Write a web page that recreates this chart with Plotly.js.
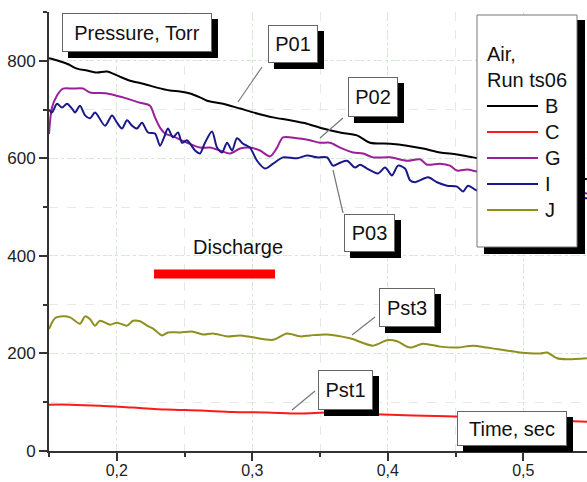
<!DOCTYPE html>
<html><head><meta charset="utf-8">
<script src="https://cdn.plot.ly/plotly-3.0.1.min.js"></script>
<style>html,body{margin:0;padding:0;background:#fff}#chart{width:587px;height:482px}</style>
</head><body><div id="chart"></div>
<script>
// ---- data ----
const seriesNames = ['B', 'C', 'G', 'I', 'J'];
const seriesColors = ['#000000', '#ff1a1a', '#9b1f9b', '#18188a', '#8f8f1e'];

const xB = [0.150,0.153,0.1633,0.1707,0.178,0.1854,0.1928,0.2002,0.2098,0.2194,0.2297,0.2393,0.2467,0.2541,0.2614,0.2666,0.2784,0.291,0.3035,0.3153,0.3279,0.3404,0.3522,0.3648,0.3773,0.3869,0.4017,0.4142,0.426,0.4386,0.4511,0.4629,0.49,0.52,0.547];
const yB = [805,803,794,784,780,776,778,770,759,753,745,739,737,733,725,718,712,702,692,684,678,671,661,653,647,632,630,626,620,612,608,602,588,572,557];

const xC = [0.150,0.1655,0.1876,0.212,0.237,0.2614,0.2856,0.3109,0.3352,0.3574,0.3699,0.4186,0.4681,0.5175,0.547];
const yC = [95,95,93,89,85,83,80,79,77,79,77,73,69,63,60];

const xG = [0.150,0.1522,0.1559,0.1603,0.1677,0.1751,0.1803,0.1928,0.2046,0.2172,0.2245,0.2282,0.2319,0.2356,0.2415,0.2518,0.2614,0.2688,0.2762,0.2836,0.291,0.2983,0.3057,0.3131,0.3183,0.3227,0.333,0.3426,0.35,0.3574,0.3648,0.3744,0.3817,0.3891,0.4017,0.4142,0.4238,0.429,0.4386,0.4459,0.4511,0.4585,0.4659,0.50,0.525,0.547];
const yG = [650,704,729,743,743,743,735,733,725,714,708,684,663,651,645,632,622,622,616,610,620,622,616,604,622,643,641,637,632,632,622,612,610,602,602,595,598,587,589,585,575,577,573,555,540,528];

const xI = [0.150,0.1522,0.1559,0.1596,0.1633,0.167,0.1692,0.1729,0.1766,0.1803,0.184,0.1913,0.1965,0.2002,0.2039,0.2076,0.2113,0.2149,0.2186,0.2231,0.2282,0.2319,0.2349,0.2378,0.2415,0.2452,0.2482,0.2518,0.2578,0.2614,0.2651,0.2703,0.274,0.2777,0.2814,0.2851,0.2887,0.2932,0.2983,0.3035,0.3094,0.3153,0.3227,0.333,0.3404,0.3478,0.3552,0.3596,0.3648,0.3699,0.3758,0.3795,0.3847,0.3928,0.398,0.4031,0.4076,0.4127,0.4164,0.4201,0.4297,0.4363,0.4437,0.4511,0.4555,0.4592,0.4659,0.50,0.525,0.547];
const yI = [700,694,712,704,712,702,694,708,688,682,694,667,688,673,661,678,667,661,673,653,651,626,643,661,643,653,632,637,616,610,632,655,622,612,632,616,641,630,622,595,579,589,602,600,606,602,602,585,591,595,581,587,579,569,581,565,585,579,555,551,561,551,544,542,532,544,534,526,520,518];

const xJ = [0.150,0.1544,0.1603,0.1655,0.1729,0.1766,0.1803,0.184,0.1876,0.195,0.2002,0.2076,0.212,0.2172,0.2223,0.2268,0.2334,0.2378,0.2467,0.2555,0.2637,0.271,0.2814,0.291,0.3006,0.3153,0.3256,0.3352,0.3426,0.3552,0.3721,0.3891,0.3994,0.4068,0.4164,0.426,0.4386,0.4511,0.4629,0.4732,0.4828,0.4976,0.5124,0.5175,0.5249,0.5323,0.547];
const yJ = [250,272,276,274,261,276,270,257,267,259,263,257,267,266,257,251,237,243,243,245,239,241,235,237,233,228,241,235,237,239,231,216,227,225,212,220,214,212,216,212,208,202,200,202,190,188,190];

const seriesX = [xB, xC, xG, xI, xJ];
const seriesY = [yB, yC, yG, yI, yJ];

const dischargeX = [0.2275, 0.3168];
const dischargeY = [363, 363];

const xTickVals = [0.2, 0.3, 0.4, 0.5];
const xTickLabels = ['0,2', '0,3', '0,4', '0,5'];
const yTickVals = [0, 200, 400, 600, 800];
const yTickLabels = ['0', '200', '400', '600', '800'];

const legendTitle = 'Air,<br>Run ts06';
const curveLabels = ['P01', 'P02', 'P03', 'Pst3', 'Pst1'];

// ---- layout helpers (pixel -> paper) ----
const W = 587, H = 482, ML = 49, MR = 0, MT = 12, MB = 31;
const PW = W - ML - MR, PH = H - MT - MB;
const px = v => (v - ML) / PW;
const py = v => (H - MB - v) / PH;
const FONT = 'Arial, "Liberation Sans", sans-serif';

const shapes = [];
const annotations = [];

function box(text, l, t, r, b, off) {
  off = off || 6;
  shapes.push({type: 'rect', xref: 'paper', yref: 'paper', layer: 'above',
    x0: px(l + off), x1: px(r + off), y0: py(b + off), y1: py(t + off),
    fillcolor: '#000', line: {width: 0}});
  annotations.push({text: text, xref: 'paper', yref: 'paper', x: px((l + r) / 2), y: py((t + b) / 2),
    xanchor: 'center', yanchor: 'middle', showarrow: false, width: r - l - 2, height: b - t - 2,
    bgcolor: '#fff', bordercolor: '#666', borderwidth: 1, borderpad: 0,
    font: {family: FONT, size: 20, color: '#111'}});
}
function leader(x0, y0, x1, y1) {
  shapes.push({type: 'line', xref: 'paper', yref: 'paper', layer: 'above',
    x0: px(x0), y0: py(y0), x1: px(x1), y1: py(y1), line: {color: '#777', width: 1.2}});
}

leader(262, 67, 238, 102);
leader(343, 118, 320, 138);
leader(343, 213, 333, 170);
leader(375, 317, 352, 335);
leader(315, 391, 292, 410);

box('Pressure, Torr', 62, 13, 212, 52);
box(curveLabels[0], 268, 25, 318, 63);
box(curveLabels[1], 348, 77, 398, 117);
box(curveLabels[2], 344, 214, 395, 252);
box(curveLabels[3], 379, 288, 435, 327);
box(curveLabels[4], 318, 370, 373, 410);
box('Time, sec', 457, 411, 567, 446);

annotations.push({text: 'Discharge', xref: 'paper', yref: 'paper', x: px(238), y: py(247),
  xanchor: 'center', yanchor: 'middle', showarrow: false,
  font: {family: FONT, size: 20, color: '#111'}});

// legend (drawn box)
shapes.push({type: 'rect', xref: 'paper', yref: 'paper', layer: 'above',
  x0: px(484), x1: px(585), y0: py(254), y1: py(20), fillcolor: '#000', line: {width: 0}});
shapes.push({type: 'rect', xref: 'paper', yref: 'paper', layer: 'above',
  x0: px(477), x1: px(577), y0: py(247), y1: py(15), fillcolor: '#fff', line: {color: '#777', width: 1}});
annotations.push({text: legendTitle, xref: 'paper', yref: 'paper', x: px(485), y: py(67),
  xanchor: 'left', yanchor: 'middle', align: 'left', showarrow: false,
  font: {family: FONT, size: 20, color: '#111'}});
const legendRows = [106, 132, 158, 184, 210];
seriesNames.forEach((n, i) => {
  shapes.push({type: 'line', xref: 'paper', yref: 'paper', layer: 'above',
    x0: px(487), x1: px(538), y0: py(legendRows[i]), y1: py(legendRows[i]),
    line: {color: seriesColors[i], width: 2}});
  annotations.push({text: n, xref: 'paper', yref: 'paper', x: px(543), y: py(legendRows[i]),
    xanchor: 'left', yanchor: 'middle', showarrow: false,
    font: {family: FONT, size: 20, color: '#111'}});
});

// ---- traces ----
const traces = seriesNames.map((n, i) => ({
  type: 'scatter', mode: 'lines', name: n, x: seriesX[i], y: seriesY[i],
  line: {color: seriesColors[i], width: 2, shape: 'spline', smoothing: 0.8},
  showlegend: false, hoverinfo: 'skip'
}));
traces.push({type: 'scatter', mode: 'lines', name: 'Discharge', x: dischargeX, y: dischargeY,
  line: {color: '#ff0000', width: 9}, showlegend: false, hoverinfo: 'skip'});

const axisCommon = {
  showline: true, linecolor: '#333', linewidth: 2, mirror: false,
  ticks: 'outside', ticklen: 8, tickwidth: 2, tickcolor: '#333',
  tickfont: {family: FONT, size: 17, color: '#222'},
  showgrid: true, gridcolor: '#cfeccf', gridwidth: 1, griddash: 'dot', zeroline: false
};

const layout = {
  width: W, height: H,
  margin: {l: ML, r: MR, t: MT, b: MB, pad: 0},
  paper_bgcolor: '#fff', plot_bgcolor: '#fff',
  showlegend: false,
  font: {family: FONT},
  xaxis: Object.assign({}, axisCommon, {
    range: [0.15, 0.547], tickmode: 'array', tickvals: xTickVals, ticktext: xTickLabels,
    ticklabelstandoff: -4,
    tickfont: {family: FONT, size: 16, color: '#222'},
    minor: {dtick: 0.05, tick0: 0.15, ticks: 'outside', ticklen: 4, tickwidth: 2, tickcolor: '#333',
      showgrid: true, gridcolor: '#e8e8e8', griddash: 'dash', gridwidth: 1}
  }),
  yaxis: Object.assign({}, axisCommon, {
    range: [0, 900], tickmode: 'array', tickvals: yTickVals, ticktext: yTickLabels,
    minor: {dtick: 100, tick0: 0, ticks: 'outside', ticklen: 4, tickwidth: 2, tickcolor: '#333',
      showgrid: true, gridcolor: '#e8e8e8', griddash: 'dash', gridwidth: 1}
  }),
  shapes: shapes,
  annotations: annotations
};

Plotly.newPlot('chart', traces, layout, {staticPlot: true, displayModeBar: false});
</script>
</body></html>
